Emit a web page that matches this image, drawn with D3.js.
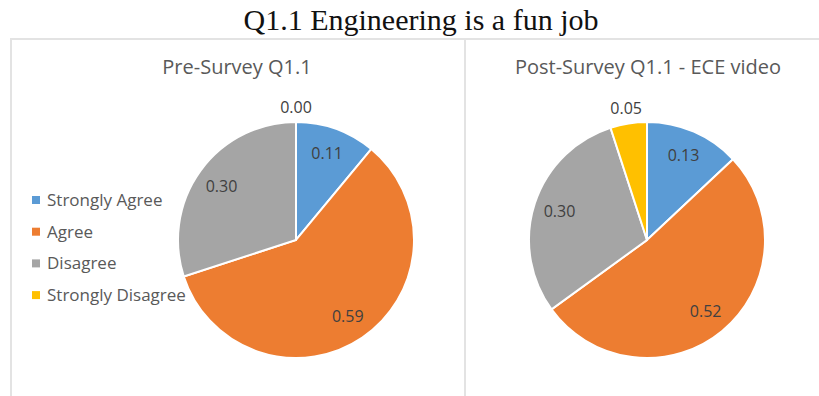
<!DOCTYPE html>
<html>
<head>
<meta charset="utf-8">
<script src="https://cdn.jsdelivr.net/npm/d3@7"></script>
<style>
  body { margin: 0; background: #fff; }
  svg { display: block; }
</style>
</head>
<body>
<div id="chart"></div>
<script>
const width = 819;
const height = 396;

// data
const categories = ["Strongly Agree", "Agree", "Disagree", "Strongly Disagree"];
const preValues = [0.11, 0.59, 0.30, 0.00];
const postValues = [0.13, 0.52, 0.30, 0.05];
const chartTitles = ["Pre-Survey Q1.1", "Post-Survey Q1.1 - ECE video"];
const mainTitle = "Q1.1 Engineering is a fun job";

const color = d3.scaleOrdinal()
  .domain(categories)
  .range(["#5b9bd5", "#ed7d31", "#a5a5a5", "#ffc000"]);

const svg = d3.select("#chart")
  .append("svg")
  .attr("width", width)
  .attr("height", height);

svg.append("text")
  .attr("x", 421)
  .attr("y", 30)
  .attr("text-anchor", "middle")
  .attr("font-family", "Liberation Serif, serif")
  .attr("font-size", 30)
  .attr("fill", "#111")
  .text(mainTitle);

// panel frames
svg.append("line")
  .attr("x1", 10).attr("x2", width).attr("y1", 39).attr("y2", 39)
  .attr("stroke", "#e3e3e3").attr("stroke-width", 2);
svg.append("line")
  .attr("x1", 11).attr("x2", 11).attr("y1", 38).attr("y2", height)
  .attr("stroke", "#e3e3e3").attr("stroke-width", 2);
svg.append("line")
  .attr("x1", 465).attr("x2", 465).attr("y1", 38).attr("y2", height)
  .attr("stroke", "#e3e3e3").attr("stroke-width", 2);

const radius = 118;
const pie = d3.pie().sort(null).value((d) => d.value);
const arc = d3.arc().innerRadius(0).outerRadius(radius);
const inLabel = d3.arc().innerRadius(radius * 0.78).outerRadius(radius * 0.78);
const outLabel = d3.arc().innerRadius(radius + 15).outerRadius(radius + 15);

function drawPie(values, cx, cy, title, titleX) {
  const data = categories.map((c, i) => ({ name: c, value: values[i] }));

  svg.append("text")
    .attr("x", titleX)
    .attr("y", 74)
    .attr("text-anchor", "middle")
    .attr("font-family", "Open Sans, sans-serif")
    .attr("font-size", 20)
    .attr("fill", "#595959")
    .text(title);

  const g = svg.append("g").attr("transform", `translate(${cx},${cy})`);
  const arcs = pie(data);

  g.selectAll("path")
    .data(arcs)
    .enter()
    .append("path")
    .attr("d", arc)
    .attr("fill", (d) => color(d.data.name))
    .attr("stroke", "#fff")
    .attr("stroke-width", 2);

  g.selectAll("text")
    .data(arcs)
    .enter()
    .append("text")
    .attr("transform", (d) => {
      const small = d.endAngle - d.startAngle < 0.5;
      return `translate(${(small ? outLabel : inLabel).centroid(d)})`;
    })
    .attr("text-anchor", "middle")
    .attr("dy", "0.35em")
    .attr("font-family", "Open Sans, sans-serif")
    .attr("font-size", 16)
    .attr("fill", "#404040")
    .text((d) => d3.format(".2f")(d.data.value));
}

drawPie(preValues, 296, 240, chartTitles[0], 237);
drawPie(postValues, 647, 240, chartTitles[1], 648);

// legend (left panel only)
const legend = svg.append("g")
  .selectAll("g")
  .data(categories)
  .enter()
  .append("g")
  .attr("transform", (d, i) => `translate(32,${200 + i * 31.7})`);

legend.append("rect")
  .attr("x", 0).attr("y", -4)
  .attr("width", 8).attr("height", 8)
  .attr("fill", (d) => color(d));

legend.append("text")
  .attr("x", 15)
  .attr("dy", "0.35em")
  .attr("font-family", "Open Sans, sans-serif")
  .attr("font-size", 17)
  .attr("fill", "#595959")
  .text((d) => d);
</script>
</body>
</html>
